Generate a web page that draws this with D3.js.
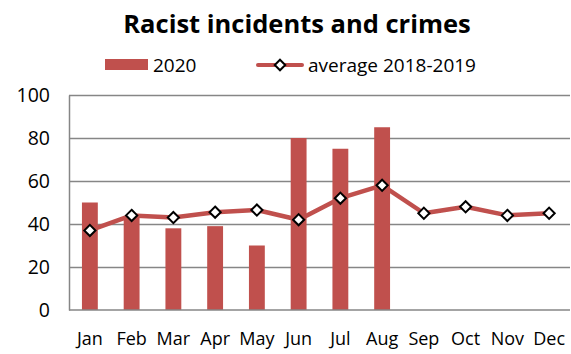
<!DOCTYPE html>
<meta charset='utf-8'>
<style>
body { margin: 0; background: #fff; }
svg text { font-family: 'Open Sans', 'Liberation Sans', sans-serif; fill: #000; }
.grid line { stroke: #868686; stroke-width: 1.5px; }
.grid .domain { stroke: none; }
.axis .domain { stroke: #868686; stroke-width: 1.5px; }
.axis line { stroke: none; }
.y.axis text { font-size: 19.5px; }
.x.axis text { font-size: 18px; }
.title { font-size: 25.5px; font-weight: bold; }
.legend text { font-size: 19px; }
</style>
<body>
<script src='https://d3js.org/d3.v7.min.js'></script>
<script>

// Data
let months = ['Jan', 'Feb', 'Mar', 'Apr', 'May', 'Jun', 'Jul', 'Aug', 'Sep', 'Oct', 'Nov', 'Dec']
let incidents2020 = [50, 43, 38, 39, 30, 80, 75, 85, null, null, null, null]
let average1819 = [37, 44, 43, 45.5, 46.5, 42, 52, 58, 45, 48, 44, 45]
let yTicks = [0, 20, 40, 60, 80, 100]

let red = '#c0504d'
let margin = {top: 95, right: 1, bottom: 44, left: 69},
	W = 571, H = 354,
	width = W - margin.left - margin.right,
	height = H - margin.top - margin.bottom

let x = d3.scaleBand().domain(months).range([0, width]).paddingInner(0.62).paddingOuter(0.31),
	xc = d3.scalePoint().domain(months).range([0, width]).padding(0.5),
	y = d3.scaleLinear().domain([0, 100]).range([height, 0])

let svg = d3.select('body').append('svg').attr('width', W).attr('height', H)

svg.append('text').attr('class', 'title')
	.attr('x', 297).attr('y', 33).attr('text-anchor', 'middle')
	.text('Racist incidents and crimes')

// Legend
let lg = svg.append('g').attr('class', 'legend')
lg.append('rect').attr('x', 105).attr('y', 59).attr('width', 43).attr('height', 11).attr('fill', red)
lg.append('text').attr('x', 153).attr('y', 72).text('2020')
lg.append('line').attr('x1', 258).attr('x2', 302).attr('y1', 65).attr('y2', 65)
	.attr('stroke', red).attr('stroke-width', 4).attr('stroke-linecap', 'round')
lg.append('path').attr('d', d3.symbol(d3.symbolDiamond2, 70)())
	.attr('transform', 'translate(280,65)')
	.attr('fill', '#fff').attr('stroke', '#000').attr('stroke-width', 2)
lg.append('text').attr('x', 308).attr('y', 72).text('average 2018-2019')

let vis = svg.append('g').attr('transform', `translate(${margin.left},${margin.top})`)

vis.append('g').attr('class', 'grid')
	.call(d3.axisLeft(y).tickValues(yTicks.slice(1)).tickSize(-width).tickFormat(''))

vis.selectAll('.bar')
	.data(months.map((m, i) => ({m, v: incidents2020[i]})).filter(d => d.v != null))
	.join('rect').attr('class', 'bar')
	.attr('x', d => x(d.m)).attr('width', x.bandwidth())
	.attr('y', d => y(d.v)).attr('height', d => y(0) - y(d.v))
	.attr('fill', red)

vis.append('g').attr('class', 'y axis')
	.call(d3.axisLeft(y).tickValues(yTicks).tickSize(0).tickPadding(19))
	.call(s => s.selectAll('text').attr('dy', '0.35em'))
vis.append('g').attr('class', 'x axis').attr('transform', `translate(0,${height})`)
	.call(d3.axisBottom(x).tickSize(0).tickPadding(22))
	.call(s => s.select('.domain').attr('d', `M0,0H${width}`))

let pts = months.map((m, i) => ({m, v: average1819[i]}))
vis.append('path').datum(pts)
	.attr('fill', 'none').attr('stroke', red).attr('stroke-width', 4.5)
	.attr('stroke-linejoin', 'round')
	.attr('d', d3.line().x(d => xc(d.m)).y(d => y(d.v)))
vis.selectAll('.pt').data(pts).join('path').attr('class', 'pt')
	.attr('d', d3.symbol(d3.symbolDiamond2, 80)())
	.attr('transform', d => `translate(${xc(d.m)},${y(d.v)})`)
	.attr('fill', '#fff').attr('stroke', '#000').attr('stroke-width', 2)

</script>
</body>
